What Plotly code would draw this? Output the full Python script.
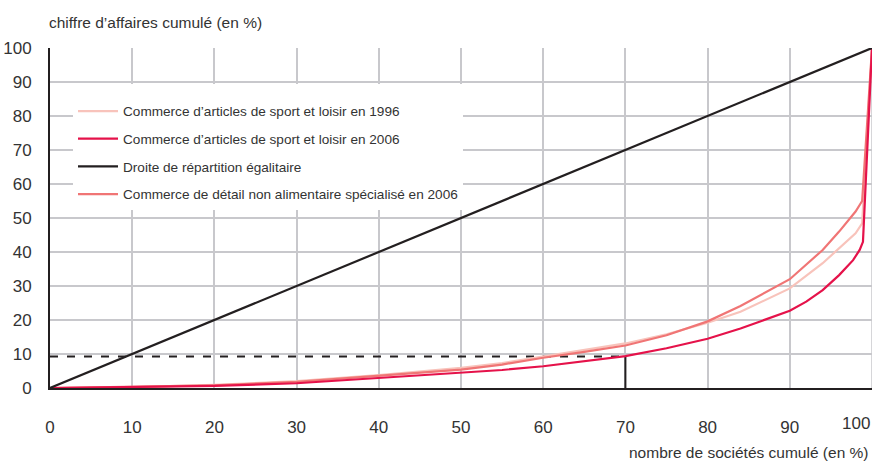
import plotly.graph_objects as go

# ---- data ----
x_1996 = [0, 10, 20, 30, 40, 45, 50, 55, 60, 65, 70, 75, 80, 84, 90, 94, 96, 98, 98.8, 100]
y_1996 = [0, 0.3, 0.9, 2.0, 3.8, 4.8, 5.9, 7.3, 9.2, 11.0, 13.1, 15.8, 19.2, 22.4, 29.3, 36.7, 41.1, 45.5, 48.4, 100]

x_2006 = [0, 10, 20, 30, 40, 45, 50, 55, 60, 65, 70, 75, 80, 84, 86, 90, 92, 94, 96, 97.7, 98.5, 98.9, 100]
y_2006 = [0, 0.2, 0.6, 1.4, 3.0, 3.7, 4.5, 5.3, 6.4, 7.8, 9.4, 11.7, 14.5, 17.5, 19.3, 22.7, 25.4, 28.8, 33.2, 37.6, 40.6, 43.0, 100]

x_nonalim = [0, 10, 20, 30, 40, 45, 50, 55, 60, 65, 70, 75, 80, 84, 90, 94, 96, 98, 98.8, 100]
y_nonalim = [0, 0.3, 0.8, 1.8, 3.5, 4.4, 5.4, 6.9, 8.9, 10.6, 12.5, 15.5, 19.6, 24.1, 32.0, 40.6, 46.0, 51.9, 55.0, 100]

x_equal = [0, 100]
y_equal = [0, 100]

ref_x = 70
ref_y = 9.3

tick_vals = [0, 10, 20, 30, 40, 50, 60, 70, 80, 90]
last_tick = 100
y_tick_vals = [0, 10, 20, 30, 40, 50, 60, 70, 80, 90, 100]

names = [
    "Commerce d\u2019articles de sport et loisir en 1996",
    "Commerce d\u2019articles de sport et loisir en 2006",
    "Droite de r\u00e9partition \u00e9galitaire",
    "Commerce de d\u00e9tail non alimentaire sp\u00e9cialis\u00e9 en 2006",
]

FONT = "Liberation Sans, Arial, Helvetica, sans-serif"
TXT = "#333333"
BLACK = "#231f20"
GRID = "#c8c8cc"
C_1996 = "#f8c3bb"
C_2006 = "#e5124a"
C_NA = "#f07575"

fig = go.Figure()

fig.add_trace(go.Scatter(x=[0, ref_x], y=[ref_y, ref_y], mode="lines",
                         line=dict(color=BLACK, width=2, dash="8px,9px"),
                         showlegend=False, hoverinfo="skip"))
fig.add_trace(go.Scatter(x=[ref_x, ref_x], y=[ref_y, 0], mode="lines",
                         line=dict(color=BLACK, width=2),
                         showlegend=False, hoverinfo="skip"))

fig.add_trace(go.Scatter(x=x_1996, y=y_1996, mode="lines", name=names[0],
                         line=dict(color=C_1996, width=2.2), legendgroup="a", legendrank=1))
fig.add_trace(go.Scatter(x=x_nonalim, y=y_nonalim, mode="lines", name=names[3],
                         line=dict(color=C_NA, width=2.2), legendgroup="d", legendrank=4))
fig.add_trace(go.Scatter(x=x_2006, y=y_2006, mode="lines", name=names[1],
                         line=dict(color=C_2006, width=2.2), legendgroup="b", legendrank=2))
fig.add_trace(go.Scatter(x=x_equal, y=y_equal, mode="lines", name=names[2],
                         line=dict(color=BLACK, width=2.2), legendgroup="c", legendrank=3))

fig.update_layout(
    width=873, height=461,
    margin=dict(l=50, r=1, t=48, b=73),
    paper_bgcolor="white", plot_bgcolor="white",
    font=dict(family=FONT, color=TXT, size=14),
    showlegend=True,
    legend=dict(x=(73 - 50) / 822, y=(388 - 84) / 340, xanchor="left", yanchor="top",
                bgcolor="white", borderwidth=0, font=dict(size=13.6, color=TXT),
                title=dict(text=" ", font=dict(size=9)),
                tracegroupgap=7, traceorder="grouped", itemwidth=40),
    xaxis=dict(range=[0, 100], tickvals=tick_vals, showgrid=True, gridcolor=GRID, gridwidth=1.5,
               showline=True, linecolor=BLACK, linewidth=2, zeroline=False, ticks="",
               tickfont=dict(size=17, color=TXT), ticklabelstandoff=23, fixedrange=True),
    yaxis=dict(range=[0, 100], tickvals=y_tick_vals, showgrid=True, gridcolor=GRID, gridwidth=1.5,
               showline=True, linecolor=BLACK, linewidth=2, zeroline=False, ticks="",
               tickfont=dict(size=17, color=TXT), ticklabelstandoff=13, fixedrange=True),
)

# vertical gridline at x=100
fig.add_shape(type="line", xref="x", yref="y", x0=100, x1=100, y0=0, y1=100,
              line=dict(color=GRID, width=1.5), layer="below")

fig.add_annotation(text=str(last_tick), x=last_tick, xref="x", xanchor="right",
                   y=(388 - 423) / 340, yref="paper", yanchor="middle", showarrow=False,
                   font=dict(size=17, color=TXT))
fig.add_annotation(text="chiffre d\u2019affaires cumul\u00e9 (en %)", xref="paper", x=(47 - 50) / 822,
                   xanchor="left", yref="paper", y=(388 - 22) / 340, yanchor="middle",
                   showarrow=False, font=dict(size=15.5, color=TXT))
fig.add_annotation(text="nombre de soci\u00e9t\u00e9s cumul\u00e9 (en %)", xref="paper", x=(871 - 50) / 822,
                   xanchor="right", yref="paper", y=(388 - 452) / 340, yanchor="middle",
                   showarrow=False, font=dict(size=15.5, color=TXT))

fig.write_html("out.html", config={"displayModeBar": False},
               post_script="document.body.style.margin='0px';")
